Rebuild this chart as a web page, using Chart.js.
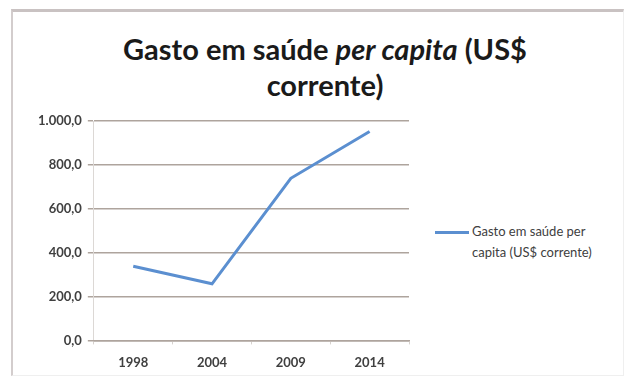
<!DOCTYPE html>
<html>
<head>
<meta charset="utf-8">
<script src="https://cdn.jsdelivr.net/npm/chart.js@4"></script>
<style>
  body { margin: 0; background: #fff; }
  #frame { position: absolute; left: 11px; top: 9px; width: 610px; height: 363px;
           border-top: 3px solid #c9c2c2; border-left: 2px solid #d3cdcd;
           border-right: 1px solid #efefef; border-bottom: 1px solid #efefef; }
  #titulo { position: absolute; left: 20px; top: 31px; width: 610px; text-align: center;
            font-family: Lato, sans-serif; font-weight: 700; font-size: 29px;
            line-height: 36px; color: #1a1a1a; }
  #legenda { position: absolute; left: 435px; top: 221px; font-family: Lato, sans-serif;
             font-size: 13px; line-height: 21px; color: #404040; }
  #legenda .traco { position: absolute; left: 0; top: 10px; width: 34px; height: 3px; background: #5b8fd0; }
  #legenda .txt { margin-left: 37px; }
  #grafico { position: absolute; left: 0; top: 0; }
</style>
</head>
<body>
<div id="frame"></div>
<div id="titulo">Gasto em saúde <i>per capita</i> (US$<br>corrente)</div>
<div id="legenda"><span class="traco"></span><div class="txt">Gasto em saúde per<br>capita (US$ corrente)</div></div>
<canvas id="grafico" width="631" height="382"></canvas>
<script>
var anos = ['1998', '2004', '2009', '2014'];
var gastoPerCapita = [338, 258, 739, 952];
var serieNome = 'Gasto em saúde per capita (US$ corrente)';

// formato brasileiro: 1.000,0
function formatoBR(v) {
  var partes = Number(v).toFixed(1).split('.');
  partes[0] = partes[0].replace(/\B(?=(\d{3})+(?!\d))/g, '.');
  return partes.join(',');
}

var ctx = document.getElementById('grafico').getContext('2d');
var meuGrafico = new Chart(ctx, {
  type: 'line',
  data: {
    labels: anos,
    datasets: [{
      label: serieNome,
      data: gastoPerCapita,
      borderColor: '#5b8fd0',
      borderWidth: 3,
      pointRadius: 0,
      tension: 0,
      fill: false
    }]
  },
  options: {
    responsive: false,
    animation: false,
    layout: { padding: { left: 32, top: 121, right: 222, bottom: 0 } },
    scales: {
      y: {
        min: 0, max: 1000,
        ticks: { stepSize: 200, color: '#404040', padding: 6,
                 font: { family: 'Lato', size: 13, weight: 700 },
                 callback: function (v) { return formatoBR(v); } },
        grid: { color: '#aea49d', lineWidth: 1.5, tickLength: 6 },
        border: { display: true, color: '#dcd8d5', width: 1 }
      },
      x: {
        offset: true,
        ticks: { color: '#404040', padding: 11,
                 font: { family: 'Lato', size: 13, weight: 700 } },
        grid: { offset: true, drawOnChartArea: false, tickLength: 4, color: '#d6d1cd' },
        border: { display: true, color: '#aea49d', width: 1.5 }
      }
    },
    plugins: {
      legend: { display: false },
      title: { display: false },
      tooltip: { enabled: false }
    }
  }
});
</script>
</body>
</html>
